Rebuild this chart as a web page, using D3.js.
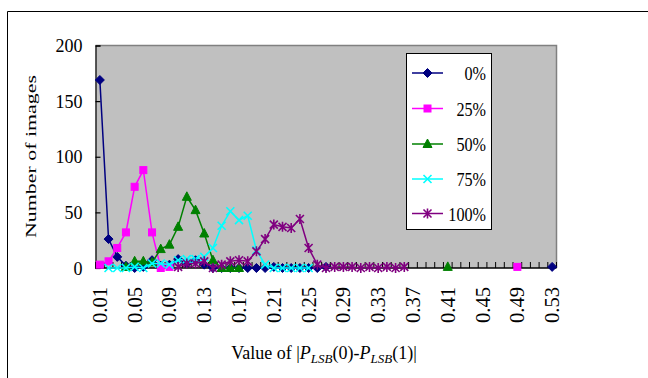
<!DOCTYPE html>
<html><head><meta charset="utf-8">
<script src="https://cdn.jsdelivr.net/npm/d3@7"></script>
<style>
body{margin:0;background:#fff}
svg{display:block}
text{font-family:"Liberation Serif","Times New Roman",serif;fill:#000}
</style>
</head><body>
<svg id="c" width="648" height="378"></svg>
<script>
// ---------------- data ----------------
const categories = ["0.01","0.02","0.03","0.04","0.05","0.06","0.07","0.08","0.09","0.10",
  "0.11","0.12","0.13","0.14","0.15","0.16","0.17","0.18","0.19","0.20",
  "0.21","0.22","0.23","0.24","0.25","0.26","0.27","0.28","0.29","0.30",
  "0.31","0.32","0.33","0.34","0.35","0.36","0.37","0.38","0.39","0.40",
  "0.41","0.42","0.43","0.44","0.45","0.46","0.47","0.48","0.49","0.50",
  "0.51","0.52","0.53"];
const xTickLabels = ["0.01","0.05","0.09","0.13","0.17","0.21","0.25","0.29","0.33","0.37","0.41","0.45","0.49","0.53"];
const yTicks = [0, 50, 100, 150, 200];
const seriesNames = ["0%", "25%", "50%", "75%", "100%"];

const s0 = [169,26,10,2,0,1,7,2,3,8, 4,7,3,0,0,0,0,0,0,0, 1,0,0,0,0,0,1,null,null,null,
  null,null,null,null,null,null,null,null,null,null, null,null,null,null,null,null,null,null,null,null,
  null,null,1];
const s25 = [3,6,18,32,73,88,32,0,1,null, null,null,null,null,null,null,null,null,null,null,
  null,null,null,null,null,null,null,null,null,null, null,null,null,null,null,null,null,null,null,null,
  null,null,null,null,null,null,null,null,1,null, null,null,null];
const s50 = [null,null,null,1,6,6,5,17,21,37, 64,52,31,7,0,0,0,null,null,null,
  null,null,null,null,null,null,null,null,null,null, null,null,null,null,null,null,null,null,null,null,
  1,null,null,null,null,null,null,null,null,null, null,null,null];
const s75 = [null,0,0,0,1,0,4,4,3,7, 8,8,10,18,38,51,43,47,16,3, 0,0,0,0,0,null,null,null,null,null,
  null,null,null,null,null,null,null,null,null,null, null,null,null,null,null,null,null,null,null,null,
  null,null,null];
const s100 = [null,null,null,null,null,null,null,null,null,1, 4,4,6,0,3,6,7,6,15,26,
  39,37,36,44,18,3,0,1,1,1, 0,1,0,1,0,1,null,null,null,null,
  null,null,null,null,null,null,null,null,null,null, null,null,null];

const seriesValues = [s0, s25, s50, s75, s100];
const colors = ["#000080", "#FF00FF", "#008000", "#00FFFF", "#800080"];
const markers = ["diamond", "square", "triangle", "x", "star"];

// ---------------- layout ----------------
const svg = d3.select("#c");
const L = 95.5, R = 556.5, T = 45.5, B = 268;

const x = d3.scaleBand().domain(categories).range([L, R]).padding(0);
const y = d3.scaleLinear().domain([0, 200]).range([B, T]);

// outer chart frame
svg.append("path").attr("d", "M7.5,378V11.5H648").attr("fill", "none").attr("stroke", "#000").attr("stroke-width", 1);

// plot area
svg.append("rect").attr("x", L).attr("y", T).attr("width", R - L).attr("height", B - T).attr("fill", "#C0C0C0");
svg.append("path").attr("d", `M${L},${T}H${R}V${B}`).attr("fill", "none").attr("stroke", "#808080").attr("stroke-width", 1.5);

function condense(sel, f) {
  sel.each(function () {
    const w = this.getComputedTextLength();
    d3.select(this).attr("textLength", w * f).attr("lengthAdjust", "spacingAndGlyphs");
  });
}

// y axis
const yAxis = d3.axisLeft(y).tickValues(yTicks).tickSize(-5).tickPadding(13);
const gy = svg.append("g").attr("transform", `translate(${L},0)`).call(yAxis);
gy.attr("font-family", null).attr("font-size", null);
gy.select(".domain").attr("stroke", "#000").attr("stroke-width", 1.2);
gy.selectAll(".tick line").attr("stroke", "#000").attr("stroke-width", 1.2);
gy.selectAll(".tick text").attr("font-size", 18).attr("fill", "#000").attr("dy", "0.34em");

// x axis: ticks at category boundaries
const boundaries = categories.map(c => x(c)).concat([R]);
const gx = svg.append("g");
gx.selectAll("line.tk").data(boundaries).join("line")
  .attr("x1", d => d).attr("x2", d => d).attr("y1", B).attr("y2", B - 6)
  .attr("stroke", "#000").attr("stroke-width", 1);
gx.append("line").attr("x1", L).attr("x2", R).attr("y1", B).attr("y2", B).attr("stroke", "#000").attr("stroke-width", 1.5);

const xl = svg.append("g").selectAll("text").data(xTickLabels).join("text")
  .attr("transform", d => `translate(${x(d) + x.bandwidth() / 2 + 7},287) rotate(-90)`)
  .attr("text-anchor", "end").attr("font-size", 22).text(d => d);
xl.attr("textLength", 36).attr("lengthAdjust", "spacingAndGlyphs");

// axis titles
const yt = svg.append("text").attr("transform", "translate(36,156.5) rotate(-90)")
  .attr("text-anchor", "middle").attr("font-size", 14).text("Number of images");
yt.attr("textLength", 163).attr("lengthAdjust", "spacingAndGlyphs");

const xt = svg.append("text").attr("x", 324).attr("y", 359).attr("text-anchor", "middle").attr("font-size", 18);
xt.append("tspan").text("Value of |");
xt.append("tspan").attr("font-style", "italic").text("P");
xt.append("tspan").attr("font-style", "italic").attr("font-size", 13).attr("dy", 4).text("LSB");
xt.append("tspan").attr("dy", -4).text("(0)-");
xt.append("tspan").attr("font-style", "italic").text("P");
xt.append("tspan").attr("font-style", "italic").attr("font-size", 13).attr("dy", 4).text("LSB");
xt.append("tspan").attr("dy", -4).text("(1)|");

// markers
function drawMarker(g, type, color) {
  if (type === "diamond") {
    g.append("path").attr("d", "M0,-4.5L4.5,0L0,4.5L-4.5,0Z").attr("fill", color).attr("stroke", color);
  } else if (type === "square") {
    g.append("rect").attr("x", -3.5).attr("y", -3.5).attr("width", 7).attr("height", 7).attr("fill", color).attr("stroke", color);
  } else if (type === "triangle") {
    g.append("path").attr("d", "M0,-5L4.5,3.5L-4.5,3.5Z").attr("fill", color).attr("stroke", color);
  } else if (type === "x") {
    g.append("path").attr("d", "M-4,-4L4,4M-4,4L4,-4").attr("stroke", color).attr("stroke-width", 1.6).attr("fill", "none");
  } else if (type === "star") {
    g.append("path").attr("d", "M-4,-4L4,4M-4,4L4,-4M0,-5V5").attr("stroke", color).attr("stroke-width", 1.6).attr("fill", "none");
  }
}

const cx = d => x(d) + x.bandwidth() / 2;
seriesValues.forEach((vals, si) => {
  const pts = categories.map((c, i) => ({ c, v: vals[i] }));
  const line = d3.line().defined(d => d.v !== null).x(d => cx(d.c)).y(d => y(d.v));
  svg.append("path").datum(pts).attr("d", line).attr("fill", "none")
    .attr("stroke", colors[si]).attr("stroke-width", 1.5);
  const mg = svg.append("g");
  pts.filter(d => d.v !== null).forEach(d => {
    const g = mg.append("g").attr("transform", `translate(${cx(d.c)},${y(d.v)})`);
    drawMarker(g, markers[si], colors[si]);
  });
});

// legend
const lg = svg.append("g");
lg.append("rect").attr("x", 406.5).attr("y", 53.5).attr("width", 85).attr("height", 176)
  .attr("fill", "#fff").attr("stroke", "#000").attr("stroke-width", 1);
const legY = [73, 108.5, 144, 179, 213.5];
seriesNames.forEach((n, i) => {
  lg.append("line").attr("x1", 412).attr("x2", 443).attr("y1", legY[i]).attr("y2", legY[i])
    .attr("stroke", colors[i]).attr("stroke-width", 1.5);
  const g = lg.append("g").attr("transform", `translate(427.5,${legY[i]})`);
  drawMarker(g, markers[i], colors[i]);
  const t = lg.append("text").attr("x", 486).attr("y", legY[i] + 7).attr("text-anchor", "end")
    .attr("font-size", 19).text(n);
  condense(t, 0.85);
});
</script>
</body></html>
